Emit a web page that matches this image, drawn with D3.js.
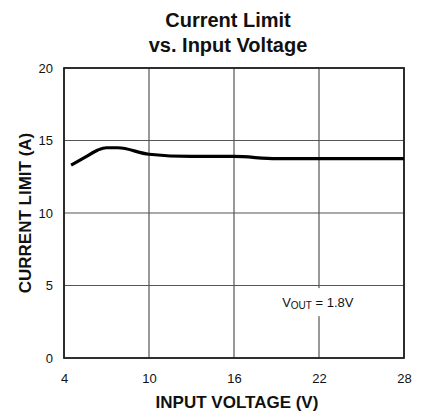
<!DOCTYPE html>
<html>
<head>
<meta charset="utf-8">
<script src="https://cdn.jsdelivr.net/npm/d3@7"></script>
<style>
  body { margin: 0; background: #fff; }
  text { font-family: "Liberation Sans", Arial, sans-serif; fill: #111; }
</style>
</head>
<body>
<svg id="chart" width="422" height="413"></svg>
<script>
// data
var inputVoltage = [4.5, 5.5, 6.4, 7.0, 7.8, 10, 13, 16, 19, 22, 28];
var currentLimit = [13.3, 13.85, 14.35, 14.5, 14.5, 14.05, 13.9, 13.9, 13.75, 13.75, 13.75];
var xTicks = [4, 10, 16, 22, 28];
var yTicks = [0, 5, 10, 15, 20];

var margin = {top: 68, right: 18, bottom: 55, left: 64}
  , width = 422 - margin.left - margin.right
  , height = 413 - margin.top - margin.bottom
  ;

var svg = d3.select('#chart');
var g = svg.append('g').attr('transform', 'translate(' + margin.left + ',' + margin.top + ')');

var x = d3.scaleLinear().domain([4, 28]).range([0, width]);
var y = d3.scaleLinear().domain([0, 20]).range([height, 0]);

// grid
g.selectAll('line.vgrid').data(xTicks).enter().append('line')
    .attr('class', 'vgrid')
    .attr('x1', function (d) { return x(d); })
    .attr('x2', function (d) { return x(d); })
    .attr('y1', 0).attr('y2', height)
    .attr('stroke', '#444').attr('stroke-width', 1.1);
g.selectAll('line.hgrid').data(yTicks).enter().append('line')
    .attr('class', 'hgrid')
    .attr('x1', 0).attr('x2', width)
    .attr('y1', function (d) { return y(d); })
    .attr('y2', function (d) { return y(d); })
    .attr('stroke', '#555').attr('stroke-width', 1.1);

// white patch behind the annotation (VOUT label starts near 19.4 V)
var noteX = x(19.4), noteY = y(4.75);
g.append('rect')
    .attr('x', noteX - 4).attr('y', noteY - 1)
    .attr('width', 78).attr('height', 28)
    .attr('fill', '#fff');

// axes (tick labels only, frame drawn separately)
var xAxis = g.append('g').attr('transform', 'translate(0,' + height + ')')
    .call(d3.axisBottom(x).tickValues(xTicks).tickSize(0).tickPadding(16));
var yAxis = g.append('g')
    .call(d3.axisLeft(y).tickValues(yTicks).tickSize(0).tickPadding(11));
[xAxis, yAxis].forEach(function (a) {
  a.select('.domain').remove();
  a.selectAll('text')
      .style('font-family', '"Liberation Sans", Arial, sans-serif')
      .style('font-size', '13px')
      .attr('fill', '#111');
});

// frame
g.append('rect')
    .attr('x', 0).attr('y', 0)
    .attr('width', width).attr('height', height)
    .attr('fill', 'none').attr('stroke', '#222').attr('stroke-width', 1.8);

// curve
var line = d3.line()
    .x(function (d, i) { return x(inputVoltage[i]); })
    .y(function (d) { return y(d); })
    .curve(d3.curveMonotoneX);
g.append('path')
    .datum(currentLimit)
    .attr('d', line)
    .attr('fill', 'none')
    .attr('stroke', '#000')
    .attr('stroke-width', 3.2)
    .attr('stroke-linejoin', 'round');

// annotation
var note = g.append('text')
    .attr('x', noteX).attr('y', noteY + 18)
    .style('font-size', '13px');
note.append('tspan').text('V');
note.append('tspan').attr('dy', 2).style('font-size', '10px').text('OUT');
note.append('tspan').attr('dy', -2).text(' = 1.8V');

// titles
svg.append('text')
    .attr('x', 228).attr('y', 26.5)
    .attr('text-anchor', 'middle')
    .style('font-size', '20px').style('font-weight', 'bold')
    .text('Current Limit');
svg.append('text')
    .attr('x', 228).attr('y', 51.5)
    .attr('text-anchor', 'middle')
    .style('font-size', '20px').style('font-weight', 'bold')
    .text('vs. Input Voltage');

svg.append('text')
    .attr('x', margin.left + width / 2 + 3).attr('y', 408)
    .attr('text-anchor', 'middle')
    .style('font-size', '17px').style('font-weight', 'bold')
    .text('INPUT VOLTAGE (V)');

svg.append('text')
    .attr('transform', 'translate(31,' + (margin.top + height / 2) + ') rotate(-90)')
    .attr('text-anchor', 'middle')
    .style('font-size', '17px').style('font-weight', 'bold')
    .text('CURRENT LIMIT (A)');
</script>
</body>
</html>
